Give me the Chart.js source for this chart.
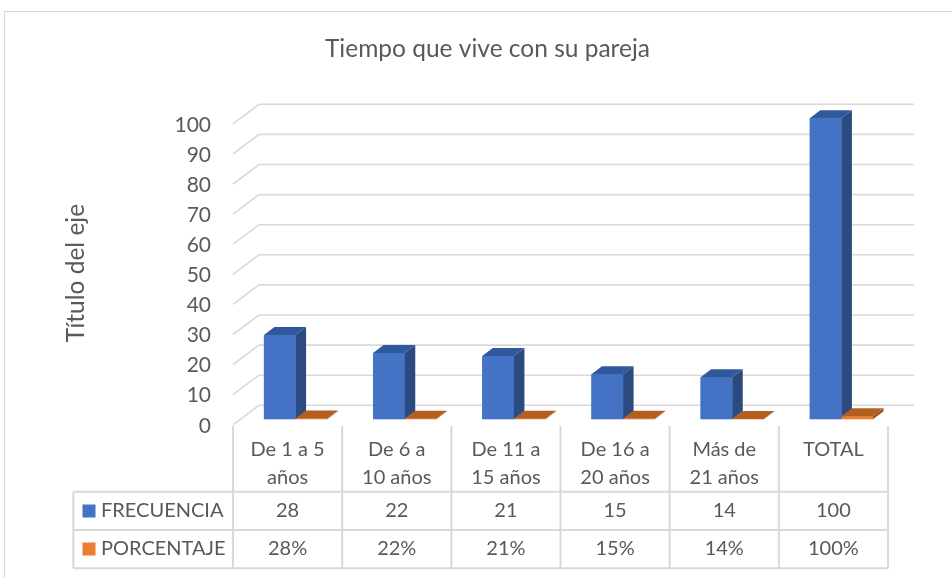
<!DOCTYPE html>
<html><head><meta charset="utf-8">
<script src="https://cdn.jsdelivr.net/npm/chart.js@4/dist/chart.umd.min.js"></script>
<style>html,body{margin:0;padding:0;background:#fff;overflow:hidden}
#wrap{position:relative;width:952px;height:578px}</style></head>
<body><div id="wrap"><canvas id="c" width="952" height="578"></canvas></div>
<script>
const chartTitle = "Tiempo que vive con su pareja";
const axisTitle = "Título del eje";
const categories = [["De 1 a 5","años"],["De 6 a","10 años"],["De 11 a","15 años"],["De 16 a","20 años"],["Más de","21 años"],["TOTAL"]];
const seriesNames = ["FRECUENCIA","PORCENTAJE"];
const frecuencia = [28,22,21,15,14,100];
const porcentaje = [0.28,0.22,0.21,0.15,0.14,1.00];
const frecuenciaLabels = ["28","22","21","15","14","100"];
const porcentajeLabels = ["28%","22%","21%","15%","14%","100%"];
const yMin = 0, yMax = 100, yStep = 10;

const FONT = 'Lato, "Open Sans", sans-serif';
const TXT = '#595959';
const GRID = '#d9d9d9';
const BACK = {dx:18, dy:-14};
const FRONT = {dx:-8, dy:5.5};
const DEPTH = {dx:10.5, dy:-8};
const faces = [
  {front:'#4472C4', side:'#2B4A80', top:'#30589C'},
  {front:'#ED7D31', side:'#9A4E1A', top:'#B45F22'}
];
const rowTable = [frecuenciaLabels, porcentajeLabels];

function poly(ctx, pts, fill){
  ctx.beginPath(); ctx.moveTo(pts[0][0], pts[0][1]);
  for (let k=1;k<pts.length;k++) ctx.lineTo(pts[k][0], pts[k][1]);
  ctx.closePath(); ctx.fillStyle = fill; ctx.fill();
}

const plugin3d = {
  id: 'plot3d',
  beforeDatasetsDraw(chart){
    const ctx = chart.ctx, ys = chart.scales.y, a = chart.chartArea;
    ctx.save();
    // frame
    ctx.strokeStyle = GRID; ctx.lineWidth = 1;
    ctx.strokeRect(4.5, 11.5, 1000, 1000);
    // title
    ctx.fillStyle = TXT; ctx.font = '24.5px ' + FONT;
    ctx.textAlign = 'center'; ctx.textBaseline = 'middle';
    ctx.fillText(chartTitle, 487.5, 49);
    // axis title
    ctx.save(); ctx.translate(76, 273); ctx.rotate(-Math.PI/2);
    ctx.font = '24.5px ' + FONT; ctx.fillText(axisTitle, 0, 0); ctx.restore();
    // back wall gridlines + left wall diagonals
    ctx.strokeStyle = GRID; ctx.lineWidth = 1.6;
    for (let v = yMin; v <= yMax; v += yStep){
      const y = ys.getPixelForValue(v);
      ctx.beginPath();
      ctx.moveTo(a.left + FRONT.dx, y + FRONT.dy);
      ctx.lineTo(a.left + BACK.dx, y + BACK.dy);
      ctx.lineTo(a.right + BACK.dx, y + BACK.dy);
      ctx.stroke();
    }
    ctx.restore();
  },
  afterDatasetsDraw(chart){
    const ctx = chart.ctx;
    ctx.save();
    const n = chart.data.labels.length;
    for (let i=0;i<n;i++){
      for (let d=0; d<chart.data.datasets.length; d++){
        const bar = chart.getDatasetMeta(d).data[i];
        const L = bar.x - bar.width/2, R = bar.x + bar.width/2, T = bar.y, B = bar.base;
        const f = faces[d];
        poly(ctx, [[L,T],[R,T],[R,B],[L,B]], f.front);
        poly(ctx, [[R,T],[R+DEPTH.dx,T+DEPTH.dy],[R+DEPTH.dx,B+DEPTH.dy],[R,B]], f.side);
        poly(ctx, [[L,T],[R,T],[R+DEPTH.dx,T+DEPTH.dy],[L+DEPTH.dx,T+DEPTH.dy]], f.top);
      }
    }
    ctx.restore();
  },
  afterDraw(chart){
    const ctx = chart.ctx, xs = chart.scales.x;
    const n = categories.length;
    const colX = [];
    for (let i=0;i<=n;i++) colX.push(xs.getPixelForValue(i - 0.5) + FRONT.dx);
    const top = 426, r1 = 491.7, r2 = 530, r3 = 568.3, leftX = 73.3;
    ctx.save();
    ctx.strokeStyle = GRID; ctx.lineWidth = 2;
    ctx.beginPath();
    for (const x of colX){ ctx.moveTo(x, top); ctx.lineTo(x, r3); }
    for (const y of [r1, r2, r3]){ ctx.moveTo(leftX, y); ctx.lineTo(colX[n], y); }
    ctx.moveTo(leftX, r1); ctx.lineTo(leftX, r3);
    ctx.stroke();
    ctx.fillStyle = TXT; ctx.font = '20px ' + FONT;
    ctx.textAlign = 'center'; ctx.textBaseline = 'middle';
    for (let i=0;i<n;i++){
      const cx = (colX[i] + colX[i+1]) / 2;
      const lines = categories[i];
      lines.forEach((t, k) => ctx.fillText(t, cx, 450 + k*28));
      ctx.fillText(rowTable[0][i], cx, 511);
      ctx.fillText(rowTable[1][i], cx, 549);
    }
    // legend keys
    ctx.textAlign = 'left';
    const rowY = [511, 549];
    seriesNames.forEach((s, k) => {
      ctx.fillStyle = faces[k].front;
      ctx.fillRect(82.5, rowY[k] - 6.5, 13, 13);
      ctx.fillStyle = TXT;
      ctx.fillText(s, 101, rowY[k]);
    });
    ctx.restore();
  }
};

const yTickValues = [];
for (let v = yMin; v <= yMax; v += yStep) yTickValues.push(v);

new Chart(document.getElementById('c'), {
  type: 'bar',
  data: {
    labels: categories,
    datasets: [
      {label: seriesNames[0], data: frecuencia, backgroundColor: faces[0].front, borderWidth: 0},
      {label: seriesNames[1], data: porcentaje, backgroundColor: faces[1].front, borderWidth: 0}
    ]
  },
  options: {
    responsive: false, animation: false, devicePixelRatio: 1,
    layout: {padding: {left: 151, right: 56, top: 118.3, bottom: 158.7}},
    datasets: {bar: {categoryPercentage: 0.58, barPercentage: 1.0}},
    plugins: {legend: {display: false}, title: {display: false}, tooltip: {enabled: false}},
    scales: {
      x: {display: false},
      y: {
        min: yMin, max: yMax,
        afterFit(s){ s.width = 90; },
        afterBuildTicks(s){ s.ticks = yTickValues.map(v => ({value: v})); },
        grid: {display: false, drawTicks: false},
        border: {display: false},
        ticks: {color: TXT, font: {family: FONT, size: 21}, padding: 30, labelOffset: 6.5}
      }
    }
  },
  plugins: [plugin3d]
});
</script>
</body></html>
